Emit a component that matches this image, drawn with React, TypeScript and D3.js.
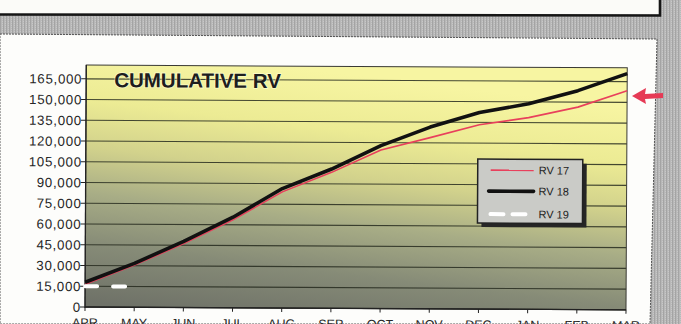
import React from "react";
import * as d3 from "d3";

// Months of the fiscal year, April to March
const months = ["APR", "MAY", "JUN", "JUL", "AUG", "SEP", "OCT", "NOV", "DEC", "JAN", "FEB", "MAR"];

// Cumulative RV per year
const rv17 = [16500, 30500, 46200, 63600, 84000, 98300, 114700, 123800, 133300, 138600, 146400, 158400];
const rv18 = [17900, 31700, 47900, 65500, 86400, 100700, 117800, 131400, 142100, 148600, 158300, 170800];
const rv19 = [15000, 15000];

const yTickValues = [0, 15000, 30000, 45000, 60000, 75000, 90000, 105000, 120000, 135000, 150000, 165000];

const seriesNames = ["RV 17", "RV 18", "RV 19"];

const W = 681;
const H = 324;
const FONT = "'Liberation Sans', Arial, Helvetica, sans-serif";

export default function App() {
  const left = 85;
  const right = 626;
  const top = 65;
  const bottom = 307;

  const x = d3.scalePoint<string>().domain(months).range([left, right]);
  const y = d3.scaleLinear().domain([0, 175000]).range([bottom, top]);

  const line = d3
    .line<number>()
    .x((_, i) => x(months[i]) as number)
    .y((d) => y(d));

  const fmt = d3.format(",");

  return (
    <svg
      width={W}
      height={H}
      viewBox={`0 0 ${W} ${H}`}
      style={{ position: "absolute", left: 0, top: 0, display: "block" }}
    >
      <defs>
        <pattern id="halftone" width="3" height="2" patternUnits="userSpaceOnUse">
          <rect width="3" height="2" fill="#b8b8b8" />
          <rect x="0" width="1" height="2" fill="#a4a4a4" />
          <rect x="2" y="1" width="1" height="1" fill="#c8c8c8" />
        </pattern>
        <linearGradient id="plotFill" x1="0.1" y1="1" x2="0.35" y2="0">
          <stop offset="0" stopColor="#6f7268" />
          <stop offset="0.22" stopColor="#868b77" />
          <stop offset="0.42" stopColor="#a8ad86" />
          <stop offset="0.6" stopColor="#d2d28c" />
          <stop offset="0.78" stopColor="#eceb94" />
          <stop offset="1" stopColor="#f7f5a2" />
        </linearGradient>
      </defs>

      {/* page background */}
      <rect width={W} height={H} fill="url(#halftone)" />
      <rect x={-2} y={-2} width={662} height={16.5} fill="#fbfbf8" />
      <path d="M0,14.5 L660,15.5 L660,0" fill="none" stroke="#161616" strokeWidth={2.6} />

      {/* chart panel */}
      <path d="M0,34 L657,39 L650,324 L0,324 Z" fill="#fdfdfb" stroke="#555" strokeWidth={1} strokeDasharray="2 1" />

      <g transform={`rotate(0.3 ${left} ${bottom})`}>
        {/* plot area */}
        <rect x={left} y={top} width={right - left} height={bottom - top} fill="url(#plotFill)" />

        {/* gridlines */}
        {yTickValues.map((v) => (
          <line
            key={v}
            x1={left}
            x2={right}
            y1={y(v)}
            y2={y(v)}
            stroke="#262a1e"
            strokeOpacity={0.85}
            strokeWidth={1.1}
          />
        ))}
        <rect x={left} y={top} width={right - left} height={bottom - top} fill="none" stroke="#3a3a34" strokeWidth={1} />

        {/* axes */}
        <line x1={left} x2={left} y1={top} y2={bottom + 1} stroke="#222" strokeWidth={1.3} />
        <line x1={left} x2={right} y1={bottom} y2={bottom} stroke="#222" strokeWidth={1.3} />
        {yTickValues.map((v) => (
          <g key={`yt${v}`}>
            <line x1={left - 5} x2={left} y1={y(v)} y2={y(v)} stroke="#222" strokeWidth={1} />
            <text
              x={left - 4}
              y={y(v)}
              dy="0.36em"
              textAnchor="end"
              fontFamily={FONT}
              fontSize={13.3}
              letterSpacing={0.7}
              fill="#262626"
            >
              {fmt(v)}
            </text>
          </g>
        ))}
        {months.map((m) => (
          <g key={m}>
            <line x1={x(m)} x2={x(m)} y1={bottom} y2={bottom + 4} stroke="#222" strokeWidth={1} />
            <text
              x={x(m)}
              y={bottom + 20}
              textAnchor="middle"
              fontFamily={FONT}
              fontSize={12.5}
              fill="#262626"
            >
              {m}
            </text>
          </g>
        ))}

        {/* title */}
        <text
          x={113}
          y={87}
          fontFamily={FONT}
          fontSize={20.5}
          fontWeight="bold"
          fill="#1e1e1e"
          stroke="#ffffe0"
          strokeOpacity={0.6}
          strokeWidth={1.6}
          paintOrder="stroke"
        >
          CUMULATIVE RV
        </text>

        {/* series */}
        <path d={line(rv17) || ""} fill="none" stroke="#e8405c" strokeWidth={1.6} strokeLinejoin="round" />
        <path d={line(rv18) || ""} fill="none" stroke="#111" strokeWidth={3.6} strokeLinejoin="round" />
        <path
          d={line(rv19) || ""}
          fill="none"
          stroke="#ffffff"
          strokeWidth={4}
          strokeDasharray="12 16"
          strokeLinecap="round"
        />

        {/* legend */}
        <g transform="translate(477,157)">
          <rect x={4} y={4} width={105} height={64} fill="#262626" />
          <rect x={0} y={0} width={105} height={64} fill="#cacbc7" stroke="#222" strokeWidth={1.5} />
          <line x1={13} x2={56} y1={11} y2={11} stroke="#e8405c" strokeWidth={1.6} />
          <line x1={11} x2={56} y1={32} y2={32} stroke="#111" strokeWidth={3.6} strokeLinecap="round" />
          <line x1={13} x2={52} y1={55} y2={55} stroke="#ffffff" strokeWidth={4} strokeDasharray="13 9" strokeLinecap="round" />
          {seriesNames.map((s, i) => (
            <text
              key={s}
              x={61}
              y={[11, 32, 55][i]}
              dy="0.36em"
              fontFamily={FONT}
              fontSize={11}
              fill="#222"
            >
              {s}
            </text>
          ))}
        </g>
      </g>

      {/* red pointer arrow */}
      <path d="M632,96 L646,88 L645,94 L663,93 L663,98 L645,99 L646,104 Z" fill="#e63a55" />
    </svg>
  );
}
